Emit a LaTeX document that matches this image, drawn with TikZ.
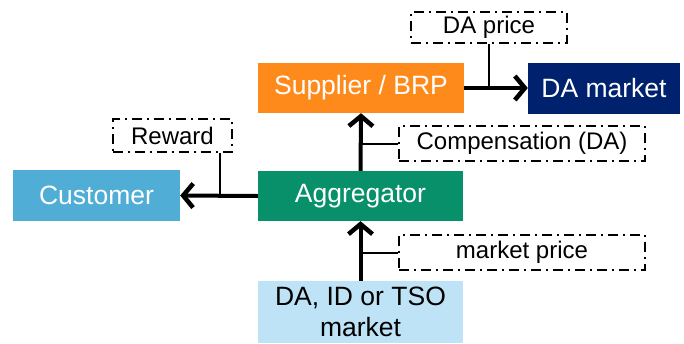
\documentclass[tikz,border=0pt]{standalone}
\usepackage{fontspec}
\setmainfont{Liberation Sans}
\usetikzlibrary{arrows.meta}
\definecolor{cOrange}{HTML}{FF8A1C}
\definecolor{cNavy}{HTML}{00216E}
\definecolor{cGreen}{HTML}{08906A}
\definecolor{cBlue}{HTML}{4FADD6}
\definecolor{cLight}{HTML}{BEE3F7}
\tikzset{
  box/.style={draw=none, inner sep=0pt, align=center, text=white,
    font=\fontsize{26.5}{31}\selectfont},
  lbl/.style={draw=black, fill=white, line width=2.3pt, inner sep=0pt,
    dash pattern=on 10pt off 5pt on 2pt off 5pt,
    font=\fontsize{24}{28}\selectfont},
  flow/.style={line width=4pt, -{Straight Barb[length=10pt,width=24pt,line width=4.5pt]}},
  conn/.style={line width=2pt}
}
\begin{document}
\begin{tikzpicture}[x=1pt,y=-1pt]
\useasboundingbox (0,0) rectangle (684,343);
\node[box, fill=cOrange, minimum width=206pt, minimum height=50pt] (brp) at (361,88) {Supplier / BRP};
\node[box, fill=cNavy, minimum width=152pt, minimum height=51pt] (dam) at (604,88) {DA market};
\node[box, fill=cBlue, minimum width=167pt, minimum height=51pt] (cust) at (96.5,195.5) {Customer};
\node[box, fill=cGreen, minimum width=205pt, minimum height=50pt] (agg) at (360.5,196) {Aggregator};
\node[box, fill=cLight, text=black, minimum width=205pt, minimum height=62pt, font=\fontsize{26.5}{31}\selectfont] (mkt) at (360.5,312) {DA, ID or TSO\\market};
\node[lbl, minimum width=156pt, minimum height=31pt] (dap) at (489,27.5) {DA price};
\node[lbl, minimum width=119pt, minimum height=33pt] (rew) at (172.5,135.5) {Reward};
\node[lbl, minimum width=246pt, minimum height=35pt] (comp) at (522,143.5) {Compensation (DA)};
\node[lbl, minimum width=246pt, minimum height=35pt] (mp) at (522,252.5) {market price};
\draw[conn] (dap.south) -- (dap.south |- brp.east);
\draw[conn] ([xshift=-13pt]rew.south east) -- ([xshift=-13pt,yshift=-2pt]rew.south east |- agg.west);
\draw[conn] (comp.west) -- (comp.west -| brp.south);
\draw[conn] (mp.west) -- (mp.west -| agg.south);
\draw[flow] (brp.east) -- (dam.west);
\draw[flow] (agg.west) -- (cust.east);
\draw[flow] (agg.north) -- (brp.south);
\draw[flow] (mkt.north) -- (agg.south);
\end{tikzpicture}
\end{document}
